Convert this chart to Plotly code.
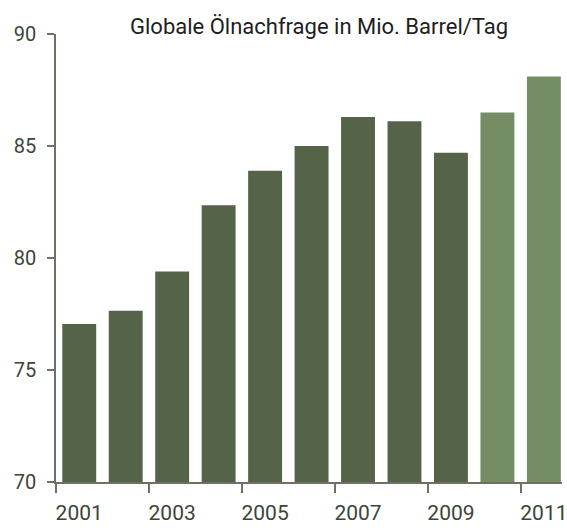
import plotly.graph_objects as go

years = [2001, 2002, 2003, 2004, 2005, 2006, 2007, 2008, 2009, 2010, 2011]
demand = [77.05, 77.65, 79.4, 82.35, 83.9, 85.0, 86.3, 86.1, 84.7, 86.5, 88.1]
is_forecast = [False] * 9 + [True, True]
y_ticks = [70, 75, 80, 85, 90]
x_label_years = [2001, 2003, 2005, 2007, 2009, 2011]
x_tick_pos = [2000.5, 2002.5, 2004.5, 2006.5, 2008.5, 2010.5]
title_text = "Globale Ölnachfrage in Mio. Barrel/Tag"

dark = "#556448"
light = "#758d65"
axis_col = "#6e7066"
txt_col = "#3d4438"

colors = [light if f else dark for f in is_forecast]

fig = go.Figure()
fig.add_trace(go.Bar(x=years, y=demand, marker=dict(color=colors, line=dict(width=0)),
                     width=0.73, showlegend=False))

xr = [2000.5, 2011.39]
fig.update_layout(
    width=567, height=528,
    margin=dict(l=56, r=5, t=34, b=46),
    plot_bgcolor="white", paper_bgcolor="white",
    font=dict(family="Roboto, Liberation Sans, sans-serif", color=txt_col),
    xaxis=dict(range=xr, tickmode="array", tickvals=x_label_years,
               ticktext=[str(v) for v in x_label_years],
               ticks="", showline=True, linecolor=axis_col, linewidth=1.5,
               showgrid=False, zeroline=False, tickfont=dict(size=21, color=txt_col),
               ticklabelstandoff=11, ticklabeloverflow="allow", automargin=False,
               minor=dict(tickmode="array", tickvals=x_tick_pos, ticks="outside",
                          ticklen=9, tickwidth=1.5, tickcolor=axis_col, showgrid=False)),
    yaxis=dict(range=[70, 90], tickvals=y_ticks, ticks="outside", ticklen=7, tickwidth=1.5,
               tickcolor=axis_col, showline=True, linecolor=axis_col, linewidth=1.5,
               showgrid=False, zeroline=False, tickfont=dict(size=20, color=txt_col),
               ticklabelstandoff=7, automargin=False),
)
fig.add_annotation(text=title_text, xref="paper", yref="paper", x=0.52, y=1.0,
                   yshift=8, showarrow=False, xanchor="center", yanchor="middle",
                   font=dict(family="Roboto, sans-serif", size=22, color="#1e1e1e"))

fig.write_html("out.html")
